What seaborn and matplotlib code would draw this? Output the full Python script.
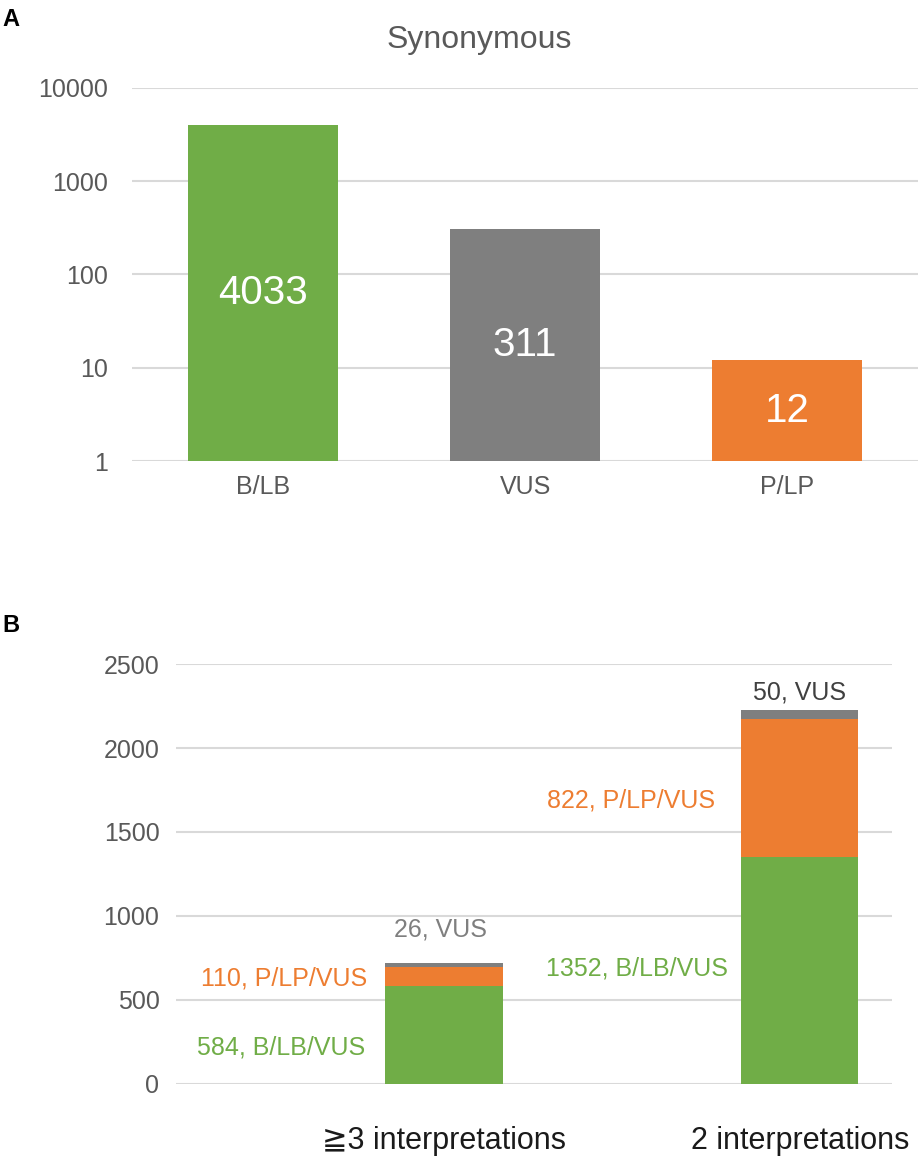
import numpy as np
import pandas as pd
import matplotlib
matplotlib.use("Agg")
import matplotlib.pyplot as plt
import seaborn as sns

# Panel A data
syn_classes = ["B/LB", "VUS", "P/LP"]
syn_counts = [4033, 311, 12]

# Panel B data
groups = ["≧3 interpretations", "2 interpretations"]
blb_vus = [584, 1352]
plp_vus = [110, 822]
vus_only = [26, 50]

GREEN = "#70AD47"
GRAY = "#7F7F7F"
ORANGE = "#ED7D31"
GRID = "#D9D9D9"
TXT = "#595959"

sns.set_theme(style="white")
plt.rcParams["font.family"] = ["Liberation Sans", "DejaVu Sans"]

fig = plt.figure(figsize=(9.22, 11.56), dpi=100)

# ---- Panel A
axA = fig.add_axes([0.143, 0.6012, 0.853, 0.3227])
axA.set_yscale("log")
dfA = pd.DataFrame({"cls": syn_classes, "n": syn_counts})
sns.barplot(data=dfA, x="cls", y="n", hue="cls", palette=[GREEN, GRAY, ORANGE],
            width=0.573, legend=False, ax=axA, zorder=3, saturation=1, linewidth=0)
axA.set_ylim(1, 10000)
axA.set_xlim(-0.5, 2.5)
axA.set_yticks([1, 10, 100, 1000, 10000])
axA.set_yticklabels(["1", "10", "100", "1000", "10000"])
axA.minorticks_off()
axA.yaxis.grid(True, color=GRID, lw=1.5, zorder=0)
for s in axA.spines.values():
    s.set_visible(False)
axA.tick_params(axis="y", length=0, labelsize=18, labelcolor=TXT, pad=17)
axA.tick_params(axis="x", length=0, labelsize=18, labelcolor=TXT, pad=10)
axA.set_xlabel("")
axA.set_ylabel("")
fig.text(0.52, 0.965, "Synonymous", color=TXT, fontsize=23, ha="center", va="center")
# labels sit at the middle of each bar in log space
for i, v in enumerate(syn_counts):
    axA.text(i, np.sqrt(v), str(v), color="white", fontsize=29, ha="center", va="center", zorder=4)

# ---- Panel B (stacked via layered cumulative bars)
axB = fig.add_axes([0.191, 0.0623, 0.776, 0.3633])
tot3 = np.array(blb_vus) + np.array(plp_vus) + np.array(vus_only)
tot2 = np.array(blb_vus) + np.array(plp_vus)
sns.barplot(x=groups, y=tot3, color=GRAY, width=0.33, ax=axB, zorder=3, saturation=1, linewidth=0)
sns.barplot(x=groups, y=tot2, color=ORANGE, width=0.33, ax=axB, zorder=3, saturation=1, linewidth=0)
sns.barplot(x=groups, y=blb_vus, color=GREEN, width=0.33, ax=axB, zorder=3, saturation=1, linewidth=0)
axB.set_ylim(0, 2500)
axB.set_xlim(-0.753, 1.258)
axB.set_yticks([0, 500, 1000, 1500, 2000, 2500])
axB.yaxis.grid(True, color=GRID, lw=1.5, zorder=0)
for s in axB.spines.values():
    s.set_visible(False)
axB.tick_params(axis="y", length=0, labelsize=18, labelcolor=TXT, pad=12)
axB.tick_params(axis="x", length=0, labelsize=22, labelcolor="#1a1a1a", pad=30)
axB.set_xlabel("")
axB.set_ylabel("")

lfs = 18
# group 0 labels
axB.text(-0.22, 217, f"{blb_vus[0]}, B/LB/VUS", color=GREEN, fontsize=lfs, ha="right", va="center")
axB.text(-0.215, 625, f"{plp_vus[0]}, P/LP/VUS", color=ORANGE, fontsize=lfs, ha="right", va="center")
axB.text(-0.011, 917, f"{vus_only[0]}, VUS", color=GRAY, fontsize=lfs, ha="center", va="center")
# group 1 labels
axB.text(0.798, 685, f"{blb_vus[1]}, B/LB/VUS", color=GREEN, fontsize=lfs, ha="right", va="center")
axB.text(0.761, 1690, f"{plp_vus[1]}, P/LP/VUS", color=ORANGE, fontsize=lfs, ha="right", va="center")
axB.text(1.0, 2330, f"{vus_only[1]}, VUS", color="#404040", fontsize=lfs, ha="center", va="center")

fig.text(0.003, 0.983, "A", fontsize=17, fontweight="bold", color="black", va="center")
fig.text(0.003, 0.459, "B", fontsize=17, fontweight="bold", color="black", va="center")

fig.savefig("out.png", dpi=100, facecolor="white")
